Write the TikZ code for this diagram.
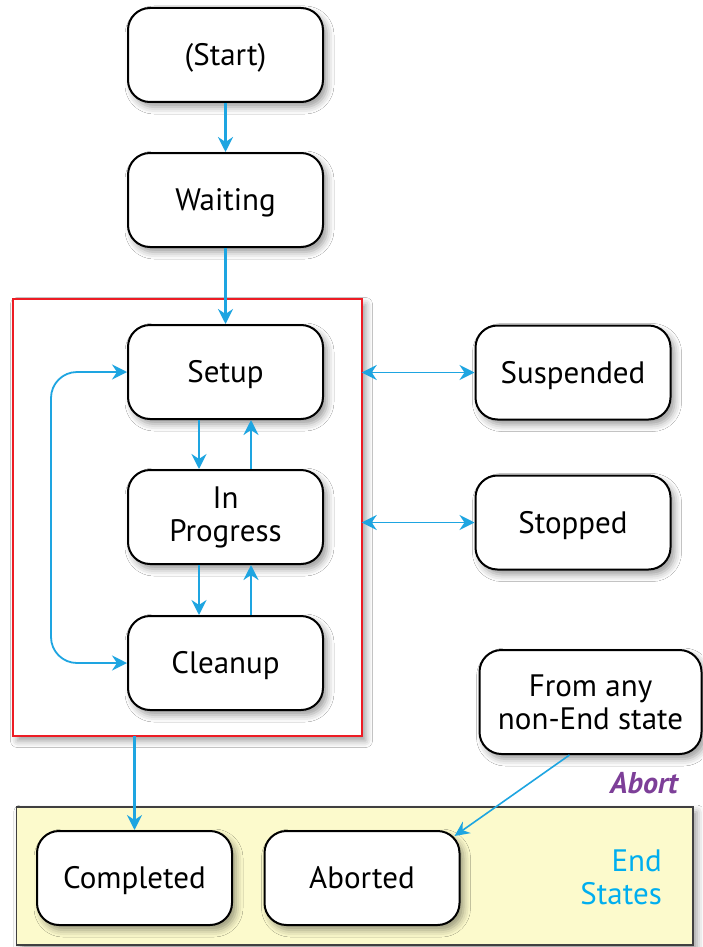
\documentclass[tikz,border=0pt]{standalone}
\usepackage{fontspec}
\setmainfont{PT Sans}
\usetikzlibrary{arrows.meta,shadows.blur}
\definecolor{arrcol}{RGB}{30,165,225}
\definecolor{phasered}{RGB}{237,28,36}
\definecolor{yellowbox}{RGB}{252,250,204}
\definecolor{abortcol}{RGB}{125,63,152}
\definecolor{endcol}{RGB}{0,174,239}
\tikzset{
  shad/.style={blur shadow={shadow xshift=4pt, shadow yshift=-5pt, shadow blur radius=7pt, shadow opacity=40}},
  state/.style={draw, line width=2pt, rounded corners=22pt, minimum width=195pt, minimum height=94pt,
    fill=white, align=center, shad, inner sep=0pt},
  one/.style={text height=21.5pt, text depth=0pt},
  arr/.style={draw=arrcol, line width=2.5pt, -{Stealth[length=15pt,width=15pt,inset=5pt]}},
  darr/.style={arr, {Stealth[length=15pt,width=15pt,inset=5pt]}-{Stealth[length=15pt,width=15pt,inset=5pt]}},
  thinarr/.style={draw=arrcol, line width=1.6pt, -{Stealth[length=15pt,width=14pt,inset=5pt]}}
}
\begin{document}
\begin{tikzpicture}[x=1pt,y=-1pt,font=\fontsize{31}{33}\selectfont]
\useasboundingbox (0,0) rectangle (702,947);
\fill[white] (0,0) rectangle (702,947);
% group boxes (shadowed fill, then border on top)
\node[shad, fill=white, minimum width=348pt, minimum height=436pt, inner sep=0pt] (phase) at (187.5,517.5) {};
\draw[phasered, line width=1.8pt] (phase.north west) rectangle (phase.south east);
\node[shad, fill=yellowbox, minimum width=676pt, minimum height=138pt, inner sep=0pt] (endbox) at (354.8,876) {};
\draw[black!75, line width=1.6pt] (endbox.north west) rectangle (endbox.south east);
% states
\node[state, one] (start) at (225.5,55) {(Start)};
\node[state, one] (wait) at (225.5,200) {Waiting};
\node[state, one] (setup) at (225.5,372) {Setup};
\node[state] (prog) at (225.5,517) {In\\Progress};
\node[state, one] (clean) at (225.5,663) {Cleanup};
\node[state, one] (susp) at (573,372.5) {Suspended};
\node[state, one] (stop) at (573,522.5) {Stopped};
\node[state, minimum width=222pt, minimum height=104pt] (from) at (590.5,702) {From any\\non-End state};
\node[state, one] (compl) at (134.5,878) {Completed};
\node[state, one] (abrt) at (362,878) {Aborted};
% labels
\node[font=\fontsize{30}{32}\selectfont\bfseries\itshape, text=abortcol, inner sep=0pt] (abortlbl) at (644,783) {Abort};
\node[text=endcol, align=right, anchor=east, inner sep=0pt] (endlbl) at (662,877) {End\\States};
% connectors
\draw[arr] (start) -- (wait);
\draw[arr] (wait) -- (setup);
\draw[arr] ([xshift=-26.5pt]setup.south) -- ([xshift=-26.5pt]prog.north);
\draw[arr] ([xshift=25.5pt]prog.north) -- ([xshift=25.5pt]setup.south);
\draw[arr] ([xshift=-26.5pt]prog.south) -- ([xshift=-26.5pt]clean.north);
\draw[arr] ([xshift=25.5pt]clean.north) -- ([xshift=25.5pt]prog.south);
\draw[darr, line width=1.8pt, rounded corners=26pt] (setup.west) -- ++(-76,0) |- (clean.west);
\draw[darr, line width=1.8pt] (phase.east |- susp.west) -- (susp.west);
\draw[darr, line width=1.8pt] (phase.east |- stop.west) -- (stop.west);
\draw[arr] (compl.north |- phase.south) -- (compl.north);
\draw[thinarr] ([xshift=-21pt]from.south) -- ([xshift=-6pt,yshift=-6pt]abrt.north east);
\end{tikzpicture}
\end{document}
